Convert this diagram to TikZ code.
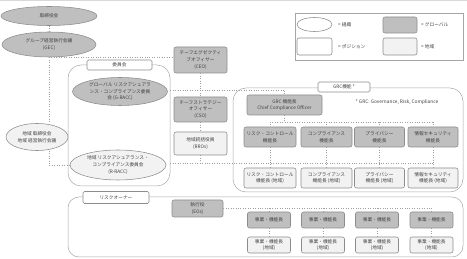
\documentclass[tikz,border=0pt]{standalone}
\usepackage{fontspec}
\setmainfont{Noto Sans CJK JP}
\usetikzlibrary{shapes.geometric}
\definecolor{globfill}{HTML}{BFBFBF}
\definecolor{regfill}{HTML}{F2F2F2}
\definecolor{bordc}{HTML}{8C8C8C}
\definecolor{regionc}{HTML}{A6A6A6}
\definecolor{connc}{HTML}{A0A0A0}
\definecolor{txtc}{HTML}{404040}
\newcommand\fsz{\fontsize{4.7}{6.8}\selectfont}
\tikzset{
  base/.style={draw=bordc, line width=0.55pt, text=txtc, align=center, inner sep=0pt, font=\fsz},
  boxg/.style={base, rectangle, rounded corners=2pt, fill=globfill},
  boxr/.style={base, rectangle, rounded corners=2pt, fill=regfill},
  boxp/.style={base, rectangle, rounded corners=2pt, fill=white},
  orgg/.style={base, ellipse, fill=globfill},
  orgr/.style={base, ellipse, fill=regfill},
  orgw/.style={base, ellipse, fill=white},
  regionbox/.style={draw=regionc, line width=0.5pt, rectangle, rounded corners=13pt, inner sep=0pt},
  tagbox/.style={base, rectangle, rounded corners=1.5pt, fill=white},
  conn/.style={draw=connc, line width=0.45pt, dotted},
  lbl/.style={text=txtc, font=\fsz, inner sep=0pt, anchor=west},
}
\begin{document}
\begin{tikzpicture}[x=1pt, y=-1pt]
\useasboundingbox (0,0) rectangle (467,259);
\draw[draw=black!15, line width=0.5pt] (0,0.5) -- (467,0.5);
\coordinate (y90) at (0,90);
\coordinate (y122) at (0,122);
\coordinate (y163) at (0,163);

% regions
\node[regionbox, minimum width=102pt, minimum height=121pt] (iinkaiR) at (119,125.5) {};
\node[regionbox, minimum width=230pt, minimum height=104pt] (grcR) at (348,140) {};
\node[regionbox, rounded corners=11pt, minimum width=395pt, minimum height=60pt] (roR) at (265.5,227) {};

% legend
\node[draw=regionc, line width=0.5pt, rectangle, minimum width=168pt, minimum height=47pt, inner sep=0pt] (legend) at (379,36.5) {};
\node[orgw, minimum width=35pt, minimum height=14pt] (lgE) at (314.5,24.5) {};
\node[lbl] (lgEt) at (338,24.5) {= 組織};
\node[boxg, minimum width=34pt, minimum height=16pt] (lgG) at (400,25) {};
\node[lbl] (lgGt) at (421,25) {= グローバル};
\node[boxp, minimum width=35pt, minimum height=17pt] (lgP) at (314.5,46.5) {};
\node[lbl] (lgPt) at (338,46.5) {= ポジション};
\node[boxr, minimum width=34pt, minimum height=17pt] (lgR) at (400,46.5) {};
\node[lbl] (lgRt) at (421,46.5) {= 地域};

% left side
\node[orgg, minimum width=96pt, minimum height=19pt] (board) at (49,16) {取締役会};
\node[orgg, minimum width=94pt, minimum height=25pt] (gec) at (49,44.5) {グループ経営執行会議\\(GEC)};
\node[orgr, minimum width=62pt, minimum height=27pt] (rboard) at (37,137) {地域 取締役会\\地域 経営執行会議};
\node[tagbox, minimum width=65pt, minimum height=10pt] (iinkaiT) at (119.5,65) {委員会};
\node[orgg, minimum width=95pt, minimum height=28pt] (gracc) at (120,91.5) {グローバル リスクアシュアラ\\ンス・コンプライアンス委員\\会 (G-RACC)};
\node[orgr, minimum width=96pt, minimum height=30pt] (rracc) at (118,165) {地域 リスクアシュアランス・\\コンプライアンス委員会\\(R-RACC)};

% middle column
\node[boxg, minimum width=53pt, minimum height=26pt] (ceo) at (200.5,60) {チーフエグゼクティ\\ブオフィサー\\(CEO)};
\node[boxg, minimum width=53pt, minimum height=25pt] (cso) at (200.5,109.5) {チーフストラテジー\\オフィサー\\(CSO)};
\node[boxr, minimum width=53pt, minimum height=23pt] (rros) at (200.5,143.5) {地域統括役員\\(RROs)};

% GRC
\node[tagbox, minimum width=52pt, minimum height=10pt] (grcT) at (344,87) {GRC機能 *};
\node[text=txtc, font=\fontsize{4.8}{5}\selectfont, inner sep=0pt] (note) at (397,102) {* GRC: Governance, Risk, Compliance};
\node[boxg, minimum width=75pt, minimum height=20pt] (grchead) at (284.5,105) {GRC 機能長\\Chief Compliance Officer};
\node[boxg, minimum width=52pt, minimum height=20pt] (f1) at (270,137) {リスク・コントロール\\機能長};
\node[boxg, minimum width=51pt, minimum height=20pt] (f2) at (326.5,137) {コンプライアンス\\機能長};
\node[boxg, minimum width=50pt, minimum height=20pt] (f3) at (379.5,137) {プライバシー\\機能長};
\node[boxg, minimum width=50pt, minimum height=20pt] (f4) at (433,137) {情報セキュリティ\\機能長};
\node[boxr, minimum width=52pt, minimum height=20pt] (r1) at (270,178) {リスク・コントロール\\機能長 (地域)};
\node[boxr, minimum width=51pt, minimum height=20pt] (r2) at (326.5,178) {コンプライアンス\\機能長 (地域)};
\node[boxr, minimum width=50pt, minimum height=20pt] (r3) at (379.5,178) {プライバシー\\機能長 (地域)};
\node[boxr, minimum width=50pt, minimum height=20pt] (r4) at (433,178) {情報セキュリティ\\機能長 (地域)};

% risk owners
\node[tagbox, minimum width=66pt, minimum height=12pt] (roT) at (116,197.5) {リスクオーナー};
\node[boxg, minimum width=51pt, minimum height=17pt] (eos) at (197.5,208.5) {執行役\\(EOs)};
\node[boxg, minimum width=43pt, minimum height=16pt] (b1) at (269,220) {事業・機能長};
\node[boxg, minimum width=43pt, minimum height=16pt] (b2) at (323,220) {事業・機能長};
\node[boxg, minimum width=43pt, minimum height=16pt] (b3) at (377,220) {事業・機能長};
\node[boxg, minimum width=43pt, minimum height=16pt] (b4) at (431.5,220) {事業・機能長};
\node[boxr, minimum width=43pt, minimum height=16pt] (rb1) at (269,245) {事業・機能長\\(地域)};
\node[boxr, minimum width=43pt, minimum height=16pt] (rb2) at (323,245) {事業・機能長\\(地域)};
\node[boxr, minimum width=43pt, minimum height=16pt] (rb3) at (377,245) {事業・機能長\\(地域)};
\node[boxr, minimum width=43pt, minimum height=16pt] (rb4) at (431.5,245) {事業・機能長\\(地域)};

% connectors
\draw[conn] (board) -- (gec);
\draw[conn] (gec.south) -- (rboard.north -| gec.south);
\draw[conn] (gec.south) -- (gec.south -| ceo.west);
\draw[conn] (rboard.south -| gec.south) |- (rracc.west);
\draw[conn] (ceo) -- (cso);
\draw[conn] (cso) -- (rros);
\draw[conn] (iinkaiR.east |- y90) -| (grchead.north);
\draw[conn] (iinkaiR.east |- y163) -- (r4.north |- y163);
\draw[conn] (rros.south) -- (rros.south |- y163);
\draw[conn] (grchead.south) -- (grchead.south |- y122);
\draw[conn] (f1.north |- y122) -- (f4.north |- y122);
\foreach \i in {1,2,3,4} {
  \draw[conn] (f\i.north |- y122) -- (f\i.north);
  \draw[conn] (f\i) -- (r\i);
  \draw[conn] (b\i) -- (rb\i);
  \draw[conn] (b\i.north |- eos.east) -- (b\i.north);
}
\draw[conn] (eos.east) -- (eos.east -| b4.north);
\end{tikzpicture}
\end{document}
